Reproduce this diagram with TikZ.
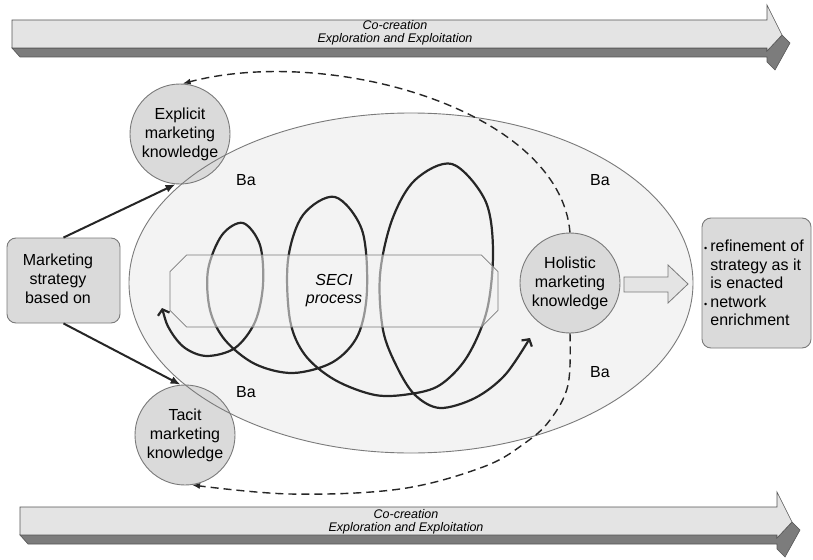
\documentclass[tikz,border=0pt]{standalone}
\usepackage{fontspec}
\setmainfont{Liberation Sans}
\usetikzlibrary{arrows.meta,shapes.misc,calc}

\definecolor{bafill}{HTML}{F3F3F3}
\definecolor{knfill}{HTML}{DADADA}
\definecolor{edgegray}{HTML}{7A7A7A}
\definecolor{ink}{HTML}{262626}
\definecolor{bandlight}{HTML}{E4E4E4}
\definecolor{banddark}{HTML}{7C7C7C}
\definecolor{bandedge}{HTML}{555555}

\tikzset{
  knowledge/.style={circle, draw=edgegray, fill=knfill, line width=0.9pt,
    minimum size=100pt, inner sep=0pt, align=center,
    font=\fontsize{16}{19}\selectfont},
  textbox/.style={draw=edgegray, fill=knfill, rounded corners=9pt, line width=0.9pt},
  balabel/.style={font=\fontsize{16}{19}\selectfont},
  bandtext/.style={font=\fontsize{12.5}{13}\selectfont\itshape, align=center},
  flowline/.style={draw=ink, line width=2pt, -{Latex[length=10pt,width=8pt]}},
  spiralline/.style={draw=ink, line width=2.2pt,
    {Straight Barb[length=5pt,width=12pt]}-{Straight Barb[length=5pt,width=12pt]}},
  feedback/.style={draw=ink, line width=1.4pt, dash pattern=on 8pt off 5pt,
    -{Latex[length=8pt,width=6pt]}},
}

% 3-D band arrow: #1 left end x, #2 end of the shaft x, #3 top of the shaft y
\newcommand\flowband[3]{%
  \filldraw[fill=banddark, draw=bandedge, line width=0.6pt]
    (#1,#3+28) -- (#2,#3+28) -- (#2,#3+31) -- (#2+15,#3+15) -- (#2+23,#3+23)
    -- (#2+8,#3+50) -- (#2,#3+42) -- (#2,#3+37) -- (#1+8,#3+37) -- cycle;
  \filldraw[fill=bandlight, draw=bandedge, line width=0.6pt]
    (#1,#3) -- (#2,#3) -- (#2,#3-15) -- (#2+15,#3+15) -- (#2,#3+31)
    -- (#2,#3+28) -- (#1,#3+28) -- cycle;
}

\begin{document}
\begin{tikzpicture}[x=1pt,y=-1pt]
\useasboundingbox (0,0) rectangle (813,559);
\fill[white] (0,0) rectangle (813,559);

% co-creation bands
\flowband{12}{767}{20}
\node[bandtext] (topband) at (395,33) {Co-creation\\Exploration and Exploitation};
\flowband{20}{777}{507}
\node[bandtext] (bottomband) at (406,522) {Co-creation\\Exploration and Exploitation};

% the Ba field
\fill[bafill] (411,283) ellipse [x radius=282pt, y radius=170pt];

% SECI spiral
\draw[spiralline] plot[smooth, tension=0.55] coordinates {
  (162,308) (170,330) (185,348) (207,356) (235,348) (255,322) (263,285)
  (260,245) (243,223) (222,235) (208,270) (210,310) (225,340) (255,364)
  (293,373) (333,362) (358,335) (367,290) (362,230) (335,197) (303,215)
  (288,260) (290,320) (305,355) (335,380) (375,395) (410,394) (440,385)
  (467,357) (487,310) (493,250) (485,200) (452,164) (415,180) (392,220)
  (380,275) (383,330) (397,367) (415,395) (440,408) (475,398) (505,375)
  (530,338)};

\node[chamfered rectangle, chamfered rectangle xsep=13pt, draw=edgegray,
      line width=0.7pt, fill=bafill, fill opacity=0.55, text opacity=1,
      minimum width=328pt, minimum height=72pt, inner sep=0pt, align=center,
      font=\fontsize{16}{18}\selectfont\itshape] (seci) at (334,291) {SECI\\process};

% knowledge nodes
\node[knowledge] (explicit) at (180,134) {Explicit\\marketing\\knowledge};
\node[knowledge] (tacit) at (185,435) {Tacit\\marketing\\knowledge};
\node[knowledge] (holistic) at (570,283) {Holistic\\marketing\\knowledge};

% outline of the Ba field, drawn over the knowledge circles
\draw[edgegray, line width=0.9pt] (411,283) ellipse [x radius=282pt, y radius=170pt];

\node[balabel] (ba1) at (246,180) {Ba};
\node[balabel] (ba2) at (600,180) {Ba};
\node[balabel] (ba3) at (246,392) {Ba};
\node[balabel] (ba4) at (600,372) {Ba};

% strategy boxes
\node[textbox, minimum width=113pt, minimum height=85pt, inner sep=0pt] (strategy) at (63.5,280.5) {};
\node[align=center, font=\fontsize{16}{19}\selectfont] (strategytext) at (58,279) {Marketing\\strategy\\based on};

\node[textbox, minimum width=109pt, minimum height=130pt, inner sep=0pt] (outcome) at (756.5,283) {};
\node[anchor=west, inner sep=0pt, font=\fontsize{16}{18.5}\selectfont] (outcometext) at (704,285)
  {\begin{tabular}{@{}l@{\hspace{3pt}}l@{}}
    {\small •} & refinement of\\
               & strategy as it\\
               & is enacted\\
    {\small •} & network\\
               & enrichment
   \end{tabular}};

% block arrow towards the outcome
\filldraw[fill=bandlight, draw=edgegray, line width=0.8pt]
  (624,277) -- (668,277) -- (668,265) -- (688,284) -- (668,303) -- (668,292) -- (624,292) -- cycle;

% strategy feeds both kinds of knowledge
\draw[flowline] (strategy.north) -- (explicit.265);
\draw[flowline] (strategy.south) -- (tacit.95);

% feedback loops from holistic knowledge
\draw[feedback] (holistic.north) .. controls (560,110) and (330,45) .. (explicit.87);
\draw[feedback] plot[smooth, tension=0.6] coordinates
  {(holistic.south) (568,385) (550,420) (525,443) (483,467) (400,489) (290,494) (tacit.-82)};
\end{tikzpicture}
\end{document}
